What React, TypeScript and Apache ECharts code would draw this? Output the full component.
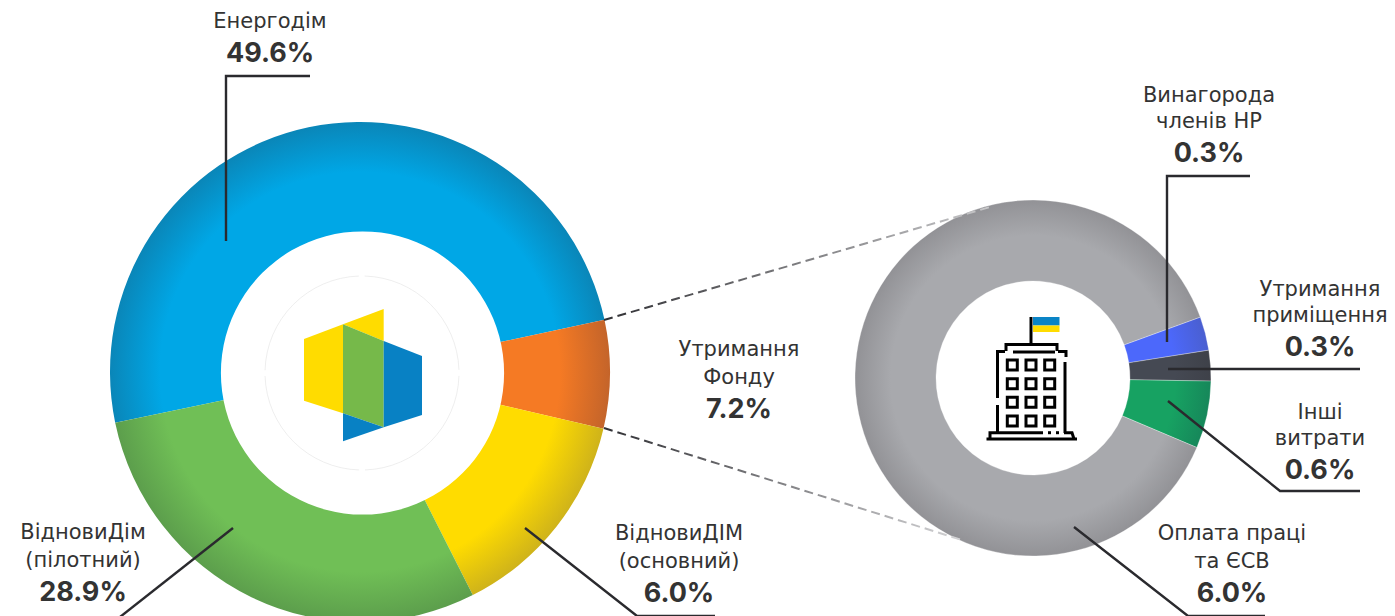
import React, { useEffect, useRef } from "react";
import * as echarts from "echarts";

const mainNames = ["Енергодім", "Утримання Фонду", "ВідновиДІМ (основний)", "ВідновиДім (пілотний)"];
const mainShares = [49.9, 7.0, 13.9, 29.2];
const mainBase = ["#00a7e6", "#f57a24", "#ffdc00", "#70bf56"];
const mainRim = ["#0a86b8", "#c4642a", "#cfb31a", "#5c9e4c"];

const costNames = ["Винагорода членів НР", "Утримання приміщення", "Інші витрати", "Оплата праці та ЄСВ"];
const costShares = [0.22, 0.2, 0.44, 6.34];
const costBase = ["#4c68fb", "#454953", "#17a262", "#a8a9ad"];
const costRim = ["#4a5fd0", "#3e4149", "#16875a", "#929296"];

const INK = "#333333";
const LINE = "#2a2a2e";
const FONT = "Inter, 'Noto Sans', sans-serif";
const LABEL_FONT = "'DejaVu Sans', Inter, sans-serif";

const labels = [
  { lines: ["Енергодім"], value: "49.6%", x: 270, y: [21], vy: 52 },
  { lines: ["Утримання", "Фонду"], value: "7.2%", x: 739, y: [349, 377], vy: 408 },
  { lines: ["ВідновиДім", "(пілотний)"], value: "28.9%", x: 83, y: [532, 560], vy: 591 },
  { lines: ["ВідновиДІМ", "(основний)"], value: "6.0%", x: 679, y: [533, 561], vy: 592 },
  { lines: ["Винагорода", "членів НР"], value: "0.3%", x: 1209, y: [95, 121], vy: 152 },
  { lines: ["Утримання", "приміщення"], value: "0.3%", x: 1320, y: [289, 315], vy: 346 },
  { lines: ["Інші", "витрати"], value: "0.6%", x: 1320, y: [412, 438], vy: 469 },
  { lines: ["Оплата праці", "та ЄСВ"], value: "6.0%", x: 1232, y: [533, 561], vy: 592 },
];

const leaders: number[][][] = [
  [[310, 76], [226, 76], [226, 241]],
  [[233, 528], [120, 617]],
  [[525, 528], [637, 616], [715, 616]],
  [[1250, 176], [1167, 176], [1167, 342]],
  [[1360, 369], [1168, 369]],
  [[1360, 491], [1280, 491], [1168, 401]],
  [[1074, 527], [1188, 616], [1265, 616]],
];

function shade(cx: number, cy: number, r: number, base: string, rim: string, inner: number) {
  return {
    type: "radial", x: cx, y: cy, r, global: true,
    colorStops: [
      { offset: 0, color: base },
      { offset: inner, color: base },
      { offset: 1, color: rim },
    ],
  };
}

function buildingIcon(): any[] {
  const out: any[] = [];
  const stroke = { stroke: "#000", lineWidth: 3, fill: "none" };
  const paths = [
    [[1031, 317], [1031, 344]],
    [[1006, 351], [1006, 344.5], [1057, 344.5], [1057, 351]],
    [[1013, 352], [1055, 352]],
    [[997.5, 398], [997.5, 351.5], [1005, 351.5]],
    [[1058, 351.5], [1066, 351.5], [1066, 357]],
    [[1065, 362], [1065, 433]],
    [[997.5, 405], [997.5, 433]],
    [[986.5, 439], [1077, 439]],
    [[990, 439], [990, 432.7], [1043, 432.7]],
    [[1048, 432.7], [1051, 432.7]],
    [[1056, 432.7], [1059, 432.7]],
    [[1064, 432.7], [1072, 432.7], [1074, 439]],
  ];
  paths.forEach((points) => out.push({ type: "polyline", z: 20, shape: { points }, style: stroke }));
  [1012.3, 1031, 1049.7].forEach((x) =>
    [365, 383.7, 402.3, 421].forEach((y) =>
      out.push({ type: "rect", z: 20, shape: { x: x - 5, y: y - 5, width: 10, height: 10 }, style: stroke })
    )
  );
  out.push({ type: "rect", z: 20, shape: { x: 1033, y: 317, width: 26.5, height: 8.5 }, style: { fill: "#0a84c6" } });
  out.push({ type: "rect", z: 20, shape: { x: 1033, y: 325.5, width: 26.5, height: 6.5 }, style: { fill: "#ffdc00" } });
  return out;
}

function logo(): any[] {
  const polys: [string, number[][]][] = [
    ["#ffdc00", [[304, 339], [343, 324.3], [343, 413.3], [304, 400.7]]],
    ["#ffdc00", [[343, 324.3], [383.7, 309], [383.7, 341]]],
    ["#76b94a", [[343, 324.3], [383.7, 341], [383.7, 427.3], [343, 413.3]]],
    ["#0881c4", [[383.7, 341], [422, 356], [422, 415], [383.7, 427.3]]],
    ["#0881c4", [[343, 413.3], [383.7, 427.3], [343, 441.3]]],
  ];
  const out: any[] = polys.map(([fill, points]) => ({ type: "polygon", z: 20, shape: { points }, style: { fill } }));
  out.unshift({ type: "circle", z: 4, shape: { cx: 362.5, cy: 373, r: 141.6 }, style: { fill: "#fff" } });
  [[0.03, 1.54], [1.6, 3.11], [3.17, 4.68], [4.74, 6.25]].forEach(([startAngle, endAngle]) =>
    out.push({
      type: "arc", z: 20,
      shape: { cx: 362, cy: 373, r: 97, startAngle, endAngle },
      style: { stroke: "#e2e2e2", lineWidth: 0.6, fill: "none" },
    })
  );
  return out;
}

function dashed(points: number[][], from: string, to: string) {
  const [a, b] = points;
  return {
    type: "line", z: 5,
    shape: { x1: a[0], y1: a[1], x2: b[0], y2: b[1] },
    style: {
      lineWidth: 2, lineDash: [9, 5], fill: "none",
      stroke: {
        type: "linear", global: true, x: a[0], y: a[1], x2: b[0], y2: b[1],
        colorStops: [{ offset: 0, color: from }, { offset: 1, color: to }],
      },
    },
  };
}

export default function App() {
  const ref = useRef<HTMLDivElement>(null);
  useEffect(() => {
    const chart = echarts.init(ref.current!, undefined, { renderer: "svg" });
    const texts: any[] = [];
    labels.forEach((l) => {
      l.lines.forEach((t, i) =>
        texts.push({
          type: "text", z: 30, x: l.x, y: l.y[i],
          style: { text: t, font: `400 21px ${LABEL_FONT}`, fill: INK, align: "center", verticalAlign: "middle" },
        })
      );
      texts.push({
        type: "text", z: 30, x: l.x, y: l.vy,
        style: { text: l.value, font: `700 27px ${FONT}`, fill: INK, align: "center", verticalAlign: "middle" },
      });
    });
    const leaderEls = leaders.map((points) => ({
      type: "polyline", z: 25, shape: { points },
      style: { stroke: LINE, lineWidth: 2.4, fill: "none" },
    }));
    chart.setOption({
      animation: false,
      tooltip: { show: false },
      series: [
        {
          type: "pie", silent: true, center: [360, 372], radius: [130, 250], startAngle: 191.7, clockwise: true,
          label: { show: false }, labelLine: { show: false },
          data: mainNames.map((name, i) => ({
            name, value: mainShares[i],
            itemStyle: { color: shade(360, 372, 250, mainBase[i], mainRim[i], 0.8) },
          })),
        },
        {
          type: "pie", silent: true, center: [1033, 378], radius: [97, 178], startAngle: 20, clockwise: true,
          label: { show: false }, labelLine: { show: false },
          itemStyle: { borderColor: "rgba(255,255,255,0.6)", borderWidth: 0.5 },
          data: costNames.map((name, i) => ({
            name, value: costShares[i],
            itemStyle: { color: shade(1033, 378, 178, costBase[i], costRim[i], 0.8) },
          })),
        },
      ],
      graphic: [
        dashed([[604, 320], [990, 207]], "#303034", "#c8c8ca"),
        dashed([[604, 428], [962, 540]], "#303034", "#d4d4d6"),
        ...leaderEls,
        ...logo(),
        ...buildingIcon(),
        ...texts,
      ],
    });
    return () => chart.dispose();
  }, []);
  return <div ref={ref} style={{ position: "absolute", left: 0, top: 0, width: 1395, height: 616 }} />;
}
